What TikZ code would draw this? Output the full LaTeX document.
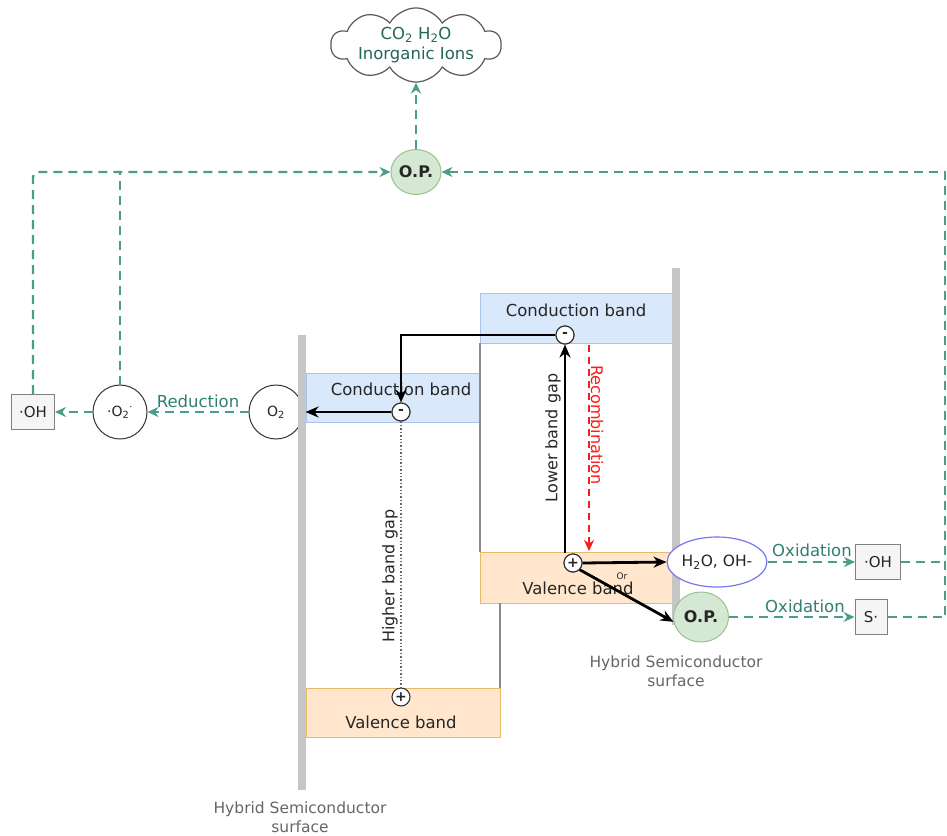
\documentclass[tikz,border=0pt]{standalone}
\usepackage{fontspec}
\setmainfont{DejaVu Sans}
\usetikzlibrary{shapes.symbols,shapes.geometric,arrows.meta}
\definecolor{tealline}{HTML}{4A9D8C}
\definecolor{tealtext}{HTML}{2F7F70}
\definecolor{barg}{HTML}{C6C6C6}
\definecolor{cbfill}{HTML}{DAE8FC}
\definecolor{cbdraw}{HTML}{A9C4EB}
\definecolor{vbfill}{HTML}{FFE6CC}
\definecolor{vbdraw}{HTML}{E8B86B}
\definecolor{opfill}{HTML}{D5E8D4}
\definecolor{opdraw}{HTML}{9CC08F}
\definecolor{ellblue}{HTML}{7777EE}
\definecolor{boxfill}{HTML}{F5F5F5}
\definecolor{recred}{HTML}{FF1A1A}
\tikzset{
  x=1pt, y=-1pt,
  every node/.style={font=\fontsize{16}{19}\selectfont, text=black!85},
  tdash/.style={draw=tealline, line width=2.4pt, dash pattern=on 9pt off 6pt},
  tarr/.style={tdash, -{Stealth[length=11pt,width=10pt]}},
  barrow/.style={draw=black, line width=2.8pt, -{Stealth[length=13pt,width=11pt]}},
  cbbox/.style={rectangle, draw=cbdraw, fill=cbfill, line width=0.8pt, inner sep=0},
  vbbox/.style={rectangle, draw=vbdraw, fill=vbfill, line width=0.8pt, inner sep=0},
  bandlbl/.style={font=\fontsize{16.5}{19}\selectfont},
  carrier/.style={circle, draw=black!80, fill=white, line width=1.1pt, minimum size=18pt, inner sep=0pt, font=\fontsize{14}{14}\selectfont\bfseries},
  opnode/.style={ellipse, draw=opdraw, fill=opfill, line width=1pt, inner sep=0pt, font=\fontsize{16}{18}\selectfont\bfseries},
  species/.style={circle, draw=black!80, fill=white, line width=1pt, minimum size=54pt, inner sep=0pt, font=\fontsize{14}{16}\selectfont},
  radbox/.style={rectangle, draw=black!50, fill=boxfill, line width=1pt, inner sep=0pt, minimum height=35pt, font=\fontsize{15}{17}\selectfont},
  tlbl/.style={text=tealtext, font=\fontsize{16.5}{19}\selectfont},
  surf/.style={text=black!60, align=center, font=\fontsize{15.5}{19}\selectfont},
  thinedge/.style={draw=black!45, line width=1.5pt},
}
\begin{document}
\begin{tikzpicture}
\useasboundingbox (0,0) rectangle (947,835);

% cloud
\node[cloud, cloud puffs=10, cloud puff arc=120, aspect=3, draw=black!65, fill=white, line width=1.2pt,
      minimum width=170pt, minimum height=68pt, inner sep=-5pt, align=center,
      text=tealtext!80!black, font=\fontsize{16.5}{20}\selectfont] (cloud) at (416,45)
      {CO\textsubscript{2} H\textsubscript{2}O\\Inorganic Ions};

% top O.P.
\node[opnode, minimum width=50pt, minimum height=45pt] (op1) at (416,172) {O.P.};

% band boxes
\node[cbbox, minimum width=192pt, minimum height=50pt] (cbR) at (576,318) {};
\node[vbbox, minimum width=192pt, minimum height=51pt] (vbR) at (576,577.5) {};
\node[cbbox, minimum width=174pt, minimum height=49pt] (cbL) at (393,397.5) {};
\node[vbbox, minimum width=194pt, minimum height=49pt] (vbL) at (403,712.5) {};
\coordinate (gR1) at (480,343);
\coordinate (gR2) at (480,552);
\coordinate (gL1) at (500,603);
\coordinate (gL2) at (500,688);
\draw[thinedge] (gR1) -- (gR2);
\draw[thinedge] (gL1) -- (gL2);

\node[bandlbl] at (576,310) {Conduction band};
\node[bandlbl] at (401,389) {Conduction band};
\node[bandlbl] at (578,588) {Valence band};
\node[bandlbl] at (401,722) {Valence band};

% left species
\node[radbox, minimum width=43pt] (ohL) at (33,412) {·OH};
\node[species] (o2r) at (120,412) {·O\textsubscript{2}\textsuperscript{·}};
\node[species] (o2) at (276,412) {O\textsubscript{2}};

% gray surface bars
\fill[barg] (298,335) rectangle (306,790);
\fill[barg] (672,268) rectangle (680,625);
\node[surf] at (300,817) {Hybrid Semiconductor\\surface};
\node[surf] at (676,671) {Hybrid Semiconductor\\surface};

% carriers
\node[carrier] (eR) at (565,335) {-};
\node[carrier] (eL) at (401,412) {-};
\node[carrier] (hR) at (573,563) {+};
\node[carrier] (hL) at (401,697) {+};

% right species
\node[ellipse, draw=ellblue, fill=white, line width=1.2pt, minimum width=85pt, minimum height=50pt, inner sep=0pt,
      font=\fontsize{15.5}{18}\selectfont] (h2o) at (717,562) {H\textsubscript{2}O, OH-};
\node[opnode, minimum width=55pt, minimum height=50pt] (op2) at (701,617) {O.P.};
\node[radbox, minimum width=45pt] (ohR) at (878,562) {·OH};
\node[radbox, minimum width=32pt] (sR) at (871,617) {S·};

% band gap markers
\draw[dotted, draw=black!60, line width=1.4pt] (eL.south) -- (hL.north);
\node[rotate=90, font=\fontsize{16}{18}\selectfont] at (390,576) {Higher band gap};
\node[rotate=90, font=\fontsize{16}{18}\selectfont] at (553,438) {Lower band gap};

% recombination
\coordinate (rtop) at (589,345);
\coordinate (rbot) at (589,551);
\draw[draw=recred, line width=2.4pt, dash pattern=on 7pt off 5pt, -{Stealth[length=11pt,width=10pt]}] (rtop) -- (rbot);
\node[rotate=-90, text=recred, fill=white, inner sep=1pt, font=\fontsize{16}{18}\selectfont] at (597,425) {Recombination};

% black arrows
\draw[barrow] (eR.west) -| (eL.north);
\draw[barrow] (eL.west) -- (eL.west -| cbL.west);
\draw[barrow] (eR.south |- hR.north) -- (eR.south);
\draw[barrow] (hR.east) -- (h2o.west);
\draw[barrow] (hR.south east) -- (op2.190);
\node[font=\fontsize{9}{10}\selectfont] at (622,576) {Or};
\node[carrier] at (hR) {+};
\node[carrier] at (eR) {-};
\node[carrier] at (eL) {-};

% teal flows
\draw[tarr] (o2.west) -- (o2r.east);
\draw[tarr] (o2r.west) -- (ohL.east);
\node[tlbl] at (198,401) {Reduction};
\draw[tarr, rounded corners=5pt] (ohL.north) |- (op1.west);
\draw[tdash] (o2r.north) -- (o2r.north |- op1.west);
\draw[tarr] (op1.north) -- (cloud.south);

\draw[tarr] (h2o.east) -- (ohR.west);
\node[tlbl] at (812,550) {Oxidation};
\draw[tarr] (op2.east) -- (sR.west);
\node[tlbl] at (805,606) {Oxidation};

\coordinate (rc1) at (945,562);
\coordinate (rc2) at (945,617);
\draw[tdash] (ohR.east) -- (rc1);
\draw[tarr] (sR.east) -- (rc2) |- (op1.east);
\end{tikzpicture}
\end{document}
